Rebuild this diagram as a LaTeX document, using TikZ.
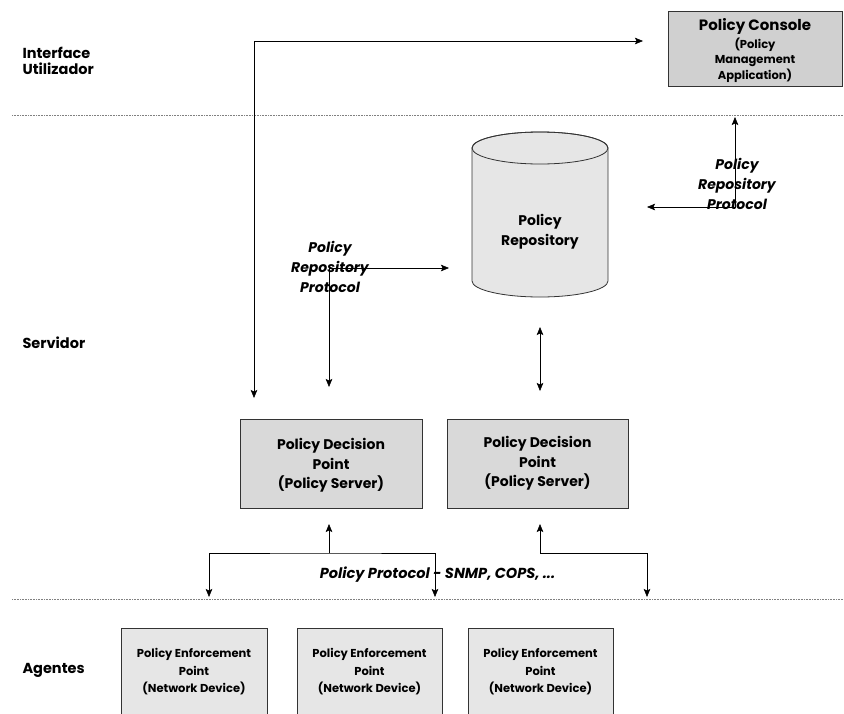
\documentclass[tikz,border=0pt]{standalone}
\usepackage{fontspec}
\setmainfont{Poppins}
\usetikzlibrary{arrows.meta}
\definecolor{consolefill}{HTML}{D0D0D0}
\definecolor{pdpfill}{HTML}{D9D9D9}
\definecolor{pepfill}{HTML}{E6E6E6}
\definecolor{cylfill}{HTML}{E6E6E6}
\definecolor{sepgray}{HTML}{808080}
\begin{document}
\begin{tikzpicture}[x=1pt,y=-1pt,
  box/.style={draw=black!80,line width=0.8pt,align=center,inner sep=0pt},
  pdpbox/.style={box,fill=pdpfill,minimum height=89pt,font=\bfseries\fontsize{14}{19.5}\selectfont},
  pepbox/.style={box,fill=pepfill,minimum height=88pt,font=\bfseries\fontsize{11.5}{17.5}\selectfont},
  arr/.style={line width=0.6pt,-{Stealth[length=8pt,width=6.5pt,inset=1.5pt]}},
  darr/.style={line width=0.6pt,{Stealth[length=8pt,width=6.5pt,inset=1.5pt]}-{Stealth[length=8pt,width=6.5pt,inset=1.5pt]}},
  sep/.style={sepgray,line width=0.6pt,dash pattern=on 1pt off 0.6pt},
  lane/.style={anchor=west,align=left,font=\bfseries\fontsize{14.5}{16}\selectfont},
  proto/.style={align=center,font=\bfseries\itshape\fontsize{14}{20}\selectfont}]
\useasboundingbox (0,0) rectangle (844,713);
\clip (0,0) rectangle (844,713);

% separators
\coordinate (s1a) at (12,115); \coordinate (s1b) at (844,115);
\coordinate (s2a) at (12,599); \coordinate (s2b) at (844,599);
\draw[sep] (s1a) -- (s1b);
\draw[sep] (s2a) -- (s2b);

% lane labels
\node[lane] (lui) at (19,61) {Interface\\Utilizador};
\node[lane] (lsrv) at (19,343) {Servidor};
\node[lane] (lag) at (19,670) {Agentes};

% console
\node[box,fill=consolefill,minimum width=174pt,minimum height=75pt,text depth=-2pt,
      font=\bfseries\fontsize{11.5}{15.5}\selectfont] (console) at (755,48.5)
  {{\fontsize{15}{18}\selectfont Policy Console}\\[2.5pt](Policy\\Management\\Application)};

% repository cylinder
\fill[cylfill,draw=black!80,line width=0.8pt] (472,148) -- (472,281)
  arc[start angle=180,end angle=360,x radius=68pt,y radius=16pt] -- (608,148)
  arc[start angle=0,end angle=180,x radius=68pt,y radius=16pt] -- cycle;
\draw[black!80,line width=0.8pt] (540,148) ellipse [x radius=68pt,y radius=16pt];
\node[align=center,font=\bfseries\fontsize{14}{20}\selectfont] (repo) at (540,232) {Policy\\Repository};

% PDPs
\node[pdpbox,minimum width=182pt,text depth=-4pt] (pdp1) at (331,463.5) {Policy Decision\\Point\\(Policy Server)};
\node[pdpbox,minimum width=181pt] (pdp2) at (537.5,463.5) {Policy Decision\\Point\\(Policy Server)};

% PEPs
\node[pepbox,minimum width=146pt] (pep1) at (194,672) {Policy Enforcement\\Point\\(Network Device)};
\node[pepbox,minimum width=145pt] (pep2) at (369.5,672) {Policy Enforcement\\Point\\(Network Device)};
\node[pepbox,minimum width=145pt] (pep3) at (540.5,672) {Policy Enforcement\\Point\\(Network Device)};

% protocol labels
\node[proto] (prp1) at (737,184) {Policy\\Repository\\Protocol};
\node[proto] (prp2) at (330,267) {Policy\\Repository\\Protocol};
\node[proto,font=\bfseries\itshape\fontsize{14.5}{18}\selectfont] (pp) at (437.5,575) {Policy Protocol - SNMP, COPS, ...};

% connector end points
\coordinate (c1) at (643,41);   \coordinate (c2) at (254,398);
\coordinate (r1) at (647,207);  \coordinate (r2) at (735,117);
\coordinate (l1) at (449,268);  \coordinate (l2) at (329,387);
\coordinate (v1) at (540,327);  \coordinate (v2) at (540,391);
\coordinate (u1) at (329,524);  \coordinate (j1) at (329,553);
\coordinate (d1) at (209,597);  \coordinate (d2) at (435,597);
\coordinate (u2) at (540,524);  \coordinate (j2) at (540,553);
\coordinate (d3) at (647,597);

\draw[darr] (c1) -| (c2);
\draw[darr] (r1) -| (r2);
\draw[darr] (l1) -| (l2);
\draw[darr] (v1) -- (v2);
\draw[arr] (j1) -- (u1);
\draw[darr] (d1) |- (j1) -| (d2);
\draw[darr] (u2) -- (j2) -| (d3);
\end{tikzpicture}
\end{document}
